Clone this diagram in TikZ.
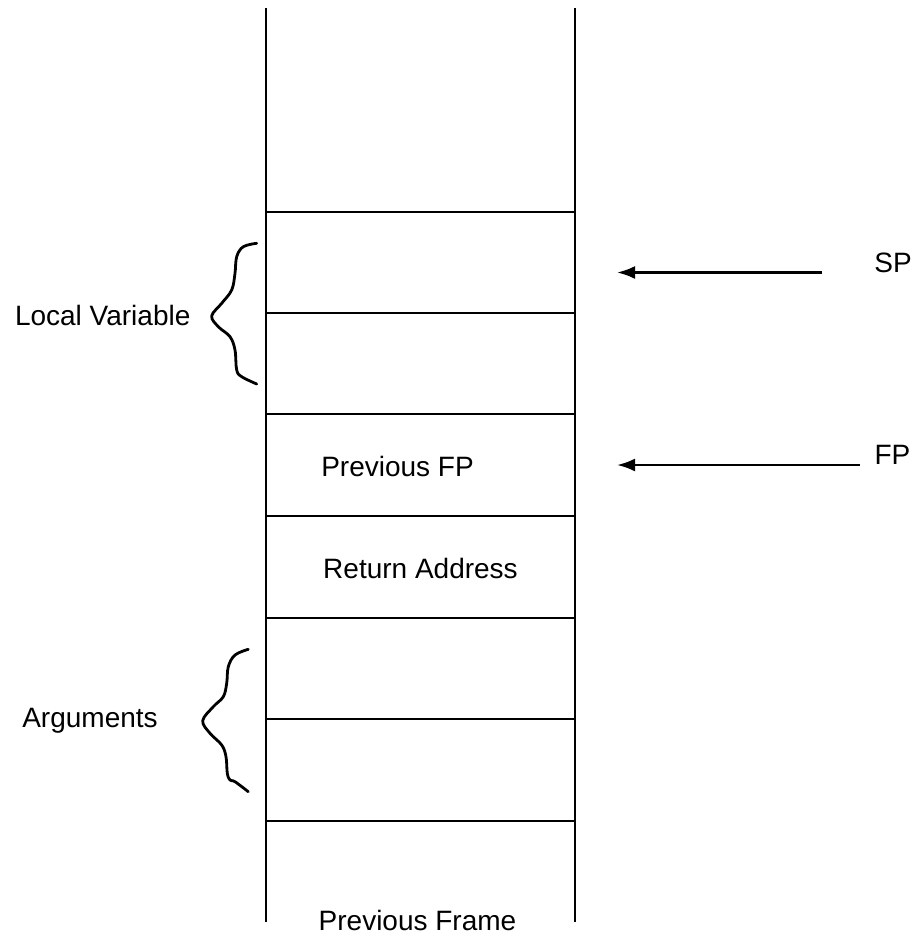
\documentclass[tikz,border=0pt]{standalone}
\usepackage{fontspec}
\setmainfont{Liberation Sans}
\usetikzlibrary{arrows.meta}
\begin{document}
\begin{tikzpicture}[x=1pt,y=-1pt,
  wall/.style={line width=2.8pt},
  sep/.style={line width=2.3pt},
  ptr/.style={line width=2.6pt,-{Latex[length=18pt,width=13pt]}},
  brace/.style={line width=2.8pt,line cap=round},
  lbl/.style={font=\fontsize{28}{33}\selectfont,inner sep=0pt,anchor=base}]
\useasboundingbox (0,0) rectangle (918,939);
% walls
\coordinate (lt) at (266,8);  \coordinate (lb) at (266,922);
\coordinate (rt) at (575,8);  \coordinate (rb) at (575,922);
\draw[wall] (lt) -- (lb);
\draw[wall] (rt) -- (rb);
% separators
\foreach \i/\y in {1/212,2/313,3/414,4/516,5/618,6/719,7/821}{
  \coordinate (sl\i) at (266,\y); \coordinate (sr\i) at (575,\y);
  \draw[sep] (sl\i) -- (sr\i);
}
% cell texts
\node[lbl] (pfp) at (397.5,476) {Previous FP};
\node[lbl] (ra) at (420.5,578) {Return Address};
\node[lbl] (pf) at (417.5,930) {Previous Frame};
% braces
\draw[brace] plot[smooth,tension=0.6] coordinates {(256.7,243.3) (243.3,246.7) (236.7,256.7) (235,273.3) (231.7,290) (221.7,303.3) (211.7,316) (218.3,326.7) (230,336.7) (235,350) (236.7,370) (241.7,376.7) (256.7,384)};
\draw[brace] plot[smooth,tension=0.6] coordinates {(248.3,649.3) (235,655) (228.3,666.7) (226.7,683.3) (223.3,696.7) (213.3,706.7) (202.7,720.7) (210,733.3) (221.7,745) (226,756.7) (227.3,773.3) (230,780) (235,781.7) (248.3,791.7)};
\node[lbl] (lv) at (102.7,325) {Local Variable};
\node[lbl] (args) at (90,727) {Arguments};
% pointers
\node[lbl] (sp) at (893,272) {SP};
\node[lbl] (fp) at (892.5,464) {FP};
\coordinate (sptail) at (822,272.5); \coordinate (sptip) at (617,272.5);
\coordinate (fptail) at (860,465); \coordinate (fptip) at (617,465);
\draw[ptr] (sptail) -- (sptip);
\draw[ptr] (fptail) -- (fptip);
\end{tikzpicture}
\end{document}
